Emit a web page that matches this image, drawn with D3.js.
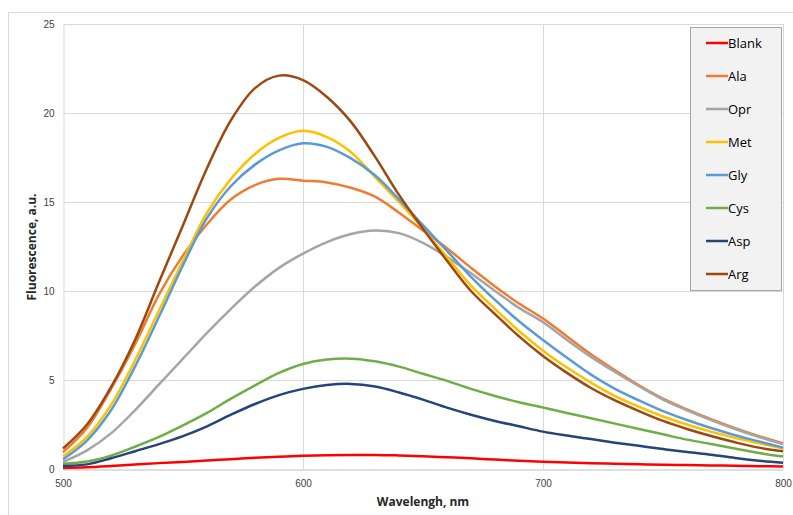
<!DOCTYPE html>
<html>
<head>
<meta charset="utf-8">
<script src="https://cdn.jsdelivr.net/npm/d3@7"></script>
<style>
  body { margin: 0; background: #fff; }
  svg { font-family: "Open Sans", "Noto Sans", sans-serif; }
</style>
</head>
<body>
<div id="chart"></div>
<script>
// Wavelength grid, nm
var wavelengths = [500, 510, 520, 530, 540, 550, 560, 570, 580, 590, 600, 610, 620, 630, 640, 650,
                   660, 670, 680, 690, 700, 710, 720, 730, 740, 750, 760, 770, 780, 790, 800];

// Fluorescence, a.u.
var blank = [0.06, 0.1, 0.17, 0.25, 0.33, 0.4, 0.48, 0.55, 0.63, 0.69, 0.74, 0.77, 0.79, 0.79, 0.76, 0.72,
             0.66, 0.6, 0.53, 0.46, 0.41, 0.37, 0.33, 0.3, 0.27, 0.24, 0.22, 0.2, 0.18, 0.16, 0.14];
var ala = [0.95, 2.3, 4.5, 7.0, 9.8, 12.0, 13.75, 15.15, 15.95, 16.3, 16.2, 16.1, 15.8, 15.3, 14.4, 13.4,
           12.4, 11.3, 10.25, 9.3, 8.45, 7.45, 6.45, 5.55, 4.7, 3.95, 3.35, 2.8, 2.3, 1.85, 1.45];
var opr = [0.4, 1.05, 2.0, 3.3, 4.75, 6.2, 7.65, 9.0, 10.25, 11.3, 12.1, 12.75, 13.2, 13.4, 13.25, 12.7,
           11.9, 11.0, 10.0, 9.05, 8.25, 7.25, 6.3, 5.45, 4.65, 3.9, 3.3, 2.75, 2.25, 1.8, 1.4];
var met = [0.7, 1.8, 3.6, 6.1, 8.9, 11.7, 14.4, 16.3, 17.7, 18.6, 19.0, 18.65, 17.8, 16.4, 15.0, 13.5,
           11.9, 10.3, 9.0, 7.75, 6.65, 5.7, 4.85, 4.1, 3.5, 2.95, 2.5, 2.1, 1.75, 1.45, 1.15];
var gly = [0.55, 1.6, 3.3, 5.75, 8.55, 11.45, 14.1, 15.9, 17.1, 17.9, 18.3, 18.1, 17.45, 16.5, 15.15, 13.7,
           12.25, 10.8, 9.5, 8.3, 7.25, 6.25, 5.3, 4.5, 3.85, 3.25, 2.75, 2.3, 1.9, 1.55, 1.2];
var cys = [0.3, 0.42, 0.75, 1.25, 1.8, 2.45, 3.15, 3.95, 4.7, 5.4, 5.9, 6.15, 6.2, 6.05, 5.75, 5.35,
           4.95, 4.5, 4.1, 3.75, 3.45, 3.15, 2.85, 2.55, 2.25, 1.95, 1.65, 1.4, 1.15, 0.9, 0.7];
var asp = [0.17, 0.26, 0.6, 1.0, 1.4, 1.85, 2.4, 3.05, 3.65, 4.15, 4.5, 4.72, 4.78, 4.63, 4.3, 3.9,
           3.45, 3.05, 2.7, 2.4, 2.1, 1.88, 1.68, 1.48, 1.3, 1.12, 0.95, 0.8, 0.62, 0.47, 0.35];
var arg = [1.15, 2.5, 4.6, 7.25, 10.5, 13.7, 16.9, 19.6, 21.4, 22.1, 21.85, 20.9, 19.5, 17.55, 15.4, 13.5,
           11.7, 10.0, 8.7, 7.45, 6.35, 5.4, 4.55, 3.85, 3.25, 2.7, 2.25, 1.85, 1.5, 1.2, 1.0];

var seriesNames = ["Blank", "Ala", "Opr", "Met", "Gly", "Cys", "Asp", "Arg"];
var seriesValues = [blank, ala, opr, met, gly, cys, asp, arg];
var seriesColors = ["#ff0000", "#ed7d31", "#a5a5a5", "#ffc000", "#5b9bd5", "#70ad47", "#264478", "#9e480e"];

var xTicks = [500, 600, 700, 800];
var yTicks = [0, 5, 10, 15, 20, 25];

// Set the dimensions and margins of the graph
var W = 793, H = 515;
var margin = { top: 24, right: 10, bottom: 46, left: 63 },
    width = 783 - margin.left,
    height = 469 - margin.top;

var svg = d3.select("#chart")
    .append("svg")
    .attr("width", W)
    .attr("height", H);

// chart frame
svg.append("rect")
    .attr("x", 8.5).attr("y", 12.5)
    .attr("width", 800).attr("height", 520)
    .attr("fill", "#fff")
    .attr("stroke", "#d9d9d9");

var g = svg.append("g")
    .attr("transform", "translate(" + margin.left + "," + margin.top + ")");

var x = d3.scaleLinear().domain([500, 800]).range([0, width]);
var y = d3.scaleLinear().domain([0, 25]).range([height, 0]);

// gridlines
g.append("g")
    .selectAll("line")
    .data(yTicks.slice(1))
    .enter().append("line")
    .attr("x1", 0).attr("x2", width)
    .attr("y1", d => Math.round(y(d)) + 0.5).attr("y2", d => Math.round(y(d)) + 0.5)
    .attr("stroke", "#d9d9d9");

g.append("g")
    .selectAll("line")
    .data(xTicks.slice(1))
    .enter().append("line")
    .attr("y1", 0).attr("y2", height)
    .attr("x1", d => Math.round(x(d)) + 0.5).attr("x2", d => Math.round(x(d)) + 0.5)
    .attr("stroke", "#d9d9d9");

// X axis
var xAxis = g.append("g")
    .attr("transform", "translate(0," + (Math.round(height) + 0.5) + ")")
    .call(d3.axisBottom(x).tickValues(xTicks).tickSize(0).tickPadding(10));
xAxis.select(".domain").attr("stroke", "#bfbfbf").attr("stroke-width", 1);
xAxis.selectAll("text").attr("fill", "#404040").style("font-size", "10px");

// Y axis
var yAxis = g.append("g")
    .attr("transform", "translate(0.5,0)")
    .call(d3.axisLeft(y).tickValues(yTicks).tickSize(0).tickPadding(9));
yAxis.select(".domain").attr("stroke", "#d9d9d9").attr("stroke-width", 1);
yAxis.selectAll("text").attr("fill", "#404040").style("font-size", "10px");

// axis titles
svg.append("text")
    .attr("text-anchor", "middle")
    .attr("x", 423)
    .attr("y", 506)
    .style("font-size", "12px")
    .style("font-weight", "bold")
    .attr("fill", "#262626")
    .text("Wavelengh, nm");

svg.append("text")
    .attr("text-anchor", "middle")
    .attr("transform", "translate(36,247) rotate(-90)")
    .style("font-size", "12px")
    .style("font-weight", "bold")
    .attr("fill", "#262626")
    .text("Fluorescence, a.u.");

// the lines
var line = d3.line()
    .x(function(d, i) { return x(wavelengths[i]) })
    .y(function(d) { return y(d) })
    .curve(d3.curveCatmullRom);

g.selectAll("path.series")
    .data(seriesValues)
    .enter().append("path")
    .attr("class", "series")
    .attr("d", d => line(d))
    .attr("fill", "none")
    .attr("stroke", (d, i) => seriesColors[i])
    .attr("stroke-width", 2.5)
    .attr("stroke-linejoin", "round");

// legend
var lg = svg.append("g").attr("transform", "translate(690,27)");
lg.append("rect")
    .attr("x", 0.5).attr("y", 0.5)
    .attr("width", 91).attr("height", 263)
    .attr("fill", "#f2f2f2")
    .attr("stroke", "#a6a6a6");

var item = lg.selectAll("g.item")
    .data(seriesNames)
    .enter().append("g")
    .attr("class", "item")
    .attr("transform", (d, i) => "translate(0," + (16 + i * 33) + ")");

item.append("line")
    .attr("x1", 16).attr("x2", 38)
    .attr("y1", 0).attr("y2", 0)
    .attr("stroke", (d, i) => seriesColors[i])
    .attr("stroke-width", 2.5);

item.append("text")
    .attr("x", 38)
    .attr("y", 0)
    .attr("dy", "0.35em")
    .style("font-size", "13px")
    .attr("fill", "#000")
    .text(d => d);
</script>
</body>
</html>
